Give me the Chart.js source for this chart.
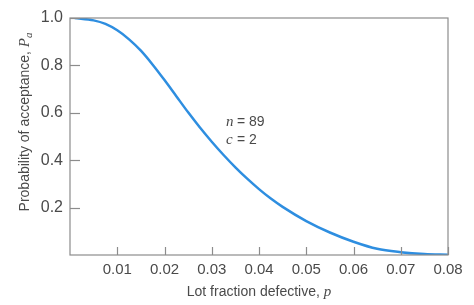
<!DOCTYPE html>
<html>
<head>
<meta charset="utf-8">
<script src="https://cdn.jsdelivr.net/npm/chart.js@4"></script>
<style>
    html, body { margin: 0; padding: 0; background: #ffffff; }
    #wrap { width: 474px; height: 305px; }
</style>
</head>
<body>
<div id="wrap"><canvas id="ocChart" width="474" height="305"></canvas></div>
<script>
// values
const fractionDefective = [0.001, 0.005, 0.0075, 0.01, 0.0125, 0.015, 0.0175, 0.02, 0.0225, 0.025, 0.0275, 0.03, 0.0325, 0.035, 0.0375, 0.04, 0.0425, 0.045, 0.05, 0.055, 0.06, 0.065, 0.07, 0.075, 0.08];
const probAccept = [1.0, 0.99, 0.975, 0.948, 0.91, 0.862, 0.803, 0.738, 0.67, 0.602, 0.538, 0.478, 0.422, 0.37, 0.322, 0.278, 0.238, 0.203, 0.143, 0.095, 0.056, 0.026, 0.012, 0.004, 0.001];
const xTicks = [0.01, 0.02, 0.03, 0.04, 0.05, 0.06, 0.07, 0.08];
const yTicks = [0.2, 0.4, 0.6, 0.8, 1.0];

const axisColor = "#8c8c8c";
const textColor = "#4a4a4a";
const fontFam = "'Liberation Sans', Arial, sans-serif";

const framePlugin = {
    id: "frame",
    afterDraw(chart) {
        const c = chart.ctx;
        const a = chart.chartArea;
        const xs = chart.scales.x;
        const ys = chart.scales.y;
        c.save();
        c.strokeStyle = axisColor;
        c.lineWidth = 1.2;
        c.strokeRect(a.left, a.top, a.right - a.left, a.bottom - a.top);
        // inward tick marks
        xTicks.forEach(v => {
            const px = Math.round(xs.getPixelForValue(v)) + 0.5;
            c.beginPath();
            c.moveTo(px, a.bottom);
            c.lineTo(px, a.bottom - 8);
            c.stroke();
        });
        yTicks.forEach(v => {
            const py = Math.round(ys.getPixelForValue(v)) + 0.5;
            c.beginPath();
            c.moveTo(a.left, py);
            c.lineTo(a.left + 10, py);
            c.stroke();
        });

        c.fillStyle = textColor;
        c.textBaseline = "middle";

        // x title
        const xt1 = "Lot fraction defective, ";
        c.font = "14px " + fontFam;
        const w1 = c.measureText(xt1).width;
        c.font = "italic 15px 'Liberation Serif', serif";
        const w2 = c.measureText("p").width;
        let sx = (a.left + a.right) / 2 - (w1 + w2) / 2;
        c.font = "14px " + fontFam;
        c.textAlign = "left";
        c.fillText(xt1, sx, 292);
        c.font = "italic 15px 'Liberation Serif', serif";
        c.fillText("p", sx + w1, 292);

        // y title
        c.save();
        c.translate(25, 0);
        c.rotate(-Math.PI / 2);
        const yt1 = "Probability of acceptance, ";
        c.font = "14px " + fontFam;
        const yw1 = c.measureText(yt1).width;
        c.font = "italic 15px 'Liberation Serif', serif";
        const yw2 = c.measureText("P").width;
        c.font = "italic 11px 'Liberation Serif', serif";
        const yw3 = c.measureText("a").width;
        const total = yw1 + yw2 + yw3;
        const cy = 122;
        let s = -cy - total / 2;
        c.font = "14px " + fontFam;
        c.fillText(yt1, s, 0);
        c.font = "italic 15px 'Liberation Serif', serif";
        c.fillText("P", s + yw1, 0);
        c.font = "italic 11px 'Liberation Serif', serif";
        c.fillText("a", s + yw1 + yw2, 4);
        c.restore();

        // plan annotation
        c.font = "italic 15px 'Liberation Serif', serif";
        c.fillText("n", 226, 122);
        c.fillText("c", 226, 140);
        c.font = "14px " + fontFam;
        c.fillText("= 89", 237, 122);
        c.fillText("= 2", 237, 140);
        c.restore();
    }
};

new Chart(document.getElementById("ocChart"), {
    type: "line",
    data: {
        datasets: [{
            data: fractionDefective.map((p, i) => ({ x: p, y: probAccept[i] })),
            borderColor: "#2e8ee0",
            borderWidth: 2.5,
            pointRadius: 0,
            fill: false,
            cubicInterpolationMode: "monotone"
        }]
    },
    options: {
        responsive: false,
        animation: false,
        layout: { padding: { left: 0, top: 18, right: 26, bottom: 0 } },
        plugins: {
            legend: { display: false },
            tooltip: { enabled: false }
        },
        scales: {
            x: {
                type: "linear",
                min: 0,
                max: 0.08,
                afterFit: s => { s.height = 50; },
                afterBuildTicks: s => { s.ticks = xTicks.map(v => ({ value: v })); },
                grid: { display: false, drawTicks: false },
                border: { display: false },
                ticks: {
                    padding: 6,
                    color: textColor,
                    font: { family: fontFam, size: 15 },
                    callback: v => v.toFixed(2)
                }
            },
            y: {
                min: 0,
                max: 1,
                afterFit: s => { s.width = 70; },
                afterBuildTicks: s => { s.ticks = yTicks.map(v => ({ value: v })); },
                grid: { display: false, drawTicks: false },
                border: { display: false },
                ticks: {
                    padding: 7,
                    color: textColor,
                    font: { family: fontFam, size: 16 },
                    callback: v => v.toFixed(1)
                }
            }
        }
    },
    plugins: [framePlugin]
});
</script>
</body>
</html>
